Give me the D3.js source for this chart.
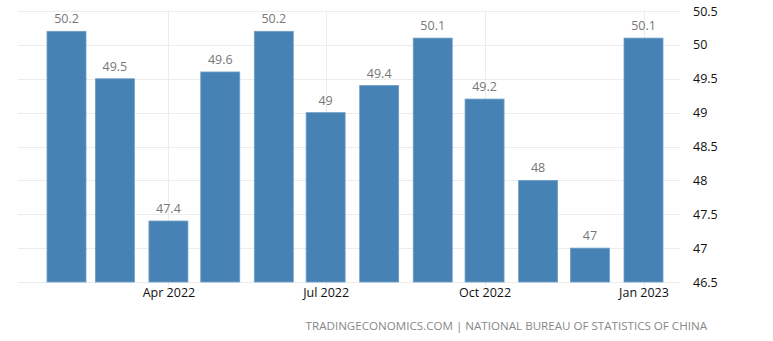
<!DOCTYPE html>
<html>
<head>
<meta charset="utf-8">
<script src="https://cdn.jsdelivr.net/npm/d3@7"></script>
<style>
  html, body { margin: 0; padding: 0; background: #fff; }
  svg { display: block; font-family: "Open Sans", "Noto Sans", sans-serif; }
</style>
</head>
<body>
<svg id="chart" width="773" height="341"></svg>
<script>
// Monthly readings, Feb 2022 – Jan 2023
const months = ["2022-02", "2022-03", "2022-04", "2022-05", "2022-06", "2022-07",
                "2022-08", "2022-09", "2022-10", "2022-11", "2022-12", "2023-01"];
const values = [50.2, 49.5, 47.4, 49.6, 50.2, 49, 49.4, 50.1, 49.2, 48, 47, 50.1];
const yTicks = [46.5, 47, 47.5, 48, 48.5, 49, 49.5, 50, 50.5];
const xTickMonths = ["2022-04", "2022-07", "2022-10", "2023-01"];
const sourceText = "TRADINGECONOMICS.COM | NATIONAL BUREAU OF STATISTICS OF CHINA";

const parse = d3.utcParse("%Y-%m");
const data = months.map((m, i) => ({ date: parse(m), value: values[i] }));

const svg = d3.select("#chart");
const plotLeft = 18, plotRight = 680, plotTop = 11, plotBottom = 282;

// time scale anchored so bars centre on the first day of each month
const x = d3.scaleUtc()
  .domain([parse("2022-02"), parse("2023-01")])
  .range([66.5, 643.5]);
const y = d3.scaleLinear().domain([46.5, 50.5]).range([plotBottom, plotTop]);
const barW = 39;

// horizontal grid
svg.append("g")
  .selectAll("line")
  .data(yTicks)
  .join("line")
  .attr("x1", plotLeft).attr("x2", plotRight)
  .attr("y1", d => Math.round(y(d)) + 0.5)
  .attr("y2", d => Math.round(y(d)) + 0.5)
  .attr("stroke", "#ececec").attr("stroke-width", 1);

// vertical grid at labelled months
svg.append("g")
  .selectAll("line")
  .data(xTickMonths.map(parse))
  .join("line")
  .attr("x1", d => Math.round(x(d)) + 0.5)
  .attr("x2", d => Math.round(x(d)) + 0.5)
  .attr("y1", plotTop).attr("y2", plotBottom + 5)
  .attr("stroke", "#ececec").attr("stroke-width", 1);

// bars
svg.append("g")
  .selectAll("rect")
  .data(data)
  .join("rect")
  .attr("x", d => x(d.date) - barW / 2)
  .attr("y", d => y(d.value))
  .attr("width", barW)
  .attr("height", d => plotBottom - y(d.value))
  .attr("fill", "#4682b4")
  .attr("stroke", "#6f9fc8")
  .attr("stroke-width", 0.8);

// value labels
svg.append("g")
  .selectAll("text")
  .data(data)
  .join("text")
  .attr("x", d => x(d.date))
  .attr("y", d => y(d.value) - 8)
  .attr("text-anchor", "middle")
  .attr("font-size", 12.5)
  .attr("fill", "#777")
  .text(d => d3.format("")(d.value));

// right value axis
const yAxis = d3.axisRight(y).tickValues(yTicks).tickSize(0).tickPadding(0)
  .tickFormat(d3.format(""));
svg.append("g")
  .attr("transform", `translate(693,0)`)
  .call(yAxis)
  .call(g => g.select(".domain").remove())
  .call(g => g.selectAll("text")
    .attr("font-family", "'Open Sans', sans-serif")
    .attr("font-size", 12.5).attr("fill", "#111"));

// bottom time axis
const xAxis = d3.axisBottom(x).tickValues(xTickMonths.map(parse))
  .tickSize(0).tickPadding(0)
  .tickFormat(d3.utcFormat("%b %Y"));
svg.append("g")
  .attr("transform", `translate(0,${plotBottom + 6})`)
  .call(xAxis)
  .call(g => g.select(".domain").remove())
  .call(g => g.selectAll("text")
    .attr("font-family", "'Open Sans', sans-serif")
    .attr("font-size", 12.5).attr("fill", "#111"));

// source line
svg.append("text")
  .attr("x", 707).attr("y", 330)
  .attr("text-anchor", "end")
  .attr("font-size", 11.6)
  .attr("fill", "#888")
  .text(sourceText);
</script>
</body>
</html>
